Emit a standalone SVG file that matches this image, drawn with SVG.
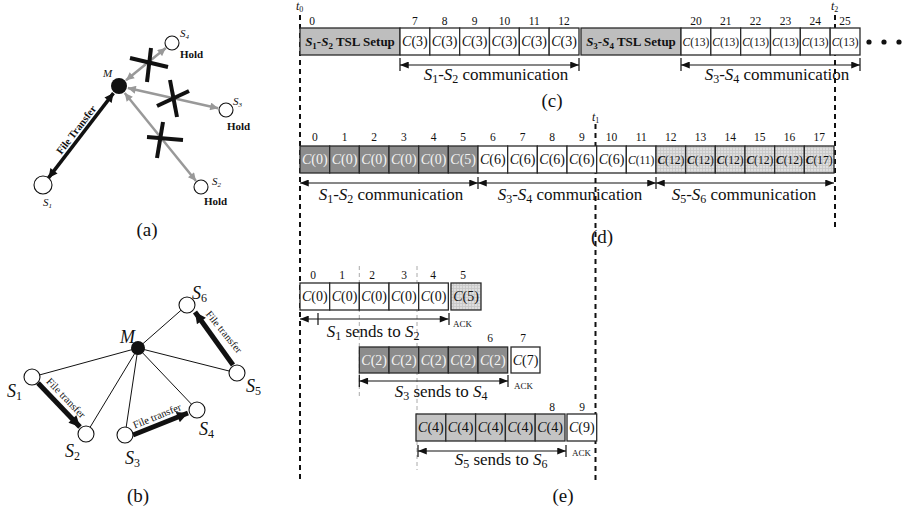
<svg xmlns="http://www.w3.org/2000/svg" width="902" height="521" viewBox="0 0 902 521">
<defs>
<style>
text{font-family:"Liberation Serif","Times New Roman",serif;fill:#111}
.num{font-size:11.5px;text-anchor:middle}
.cb{font-size:14px;text-anchor:middle}
.cs{font-size:11.5px;text-anchor:middle}
.wt{fill:#f4f4f4}
.it{font-style:italic}
.lab{font-size:17px;text-anchor:middle}
.cap{font-size:19px;text-anchor:middle}
.ack{font-size:9px}
.box{stroke:#2a2a2a;stroke-width:1.3}
.w{fill:#fff}
.dk{fill:#8c8c8c}
.md{fill:#c4c4c4}
.ts{fill:#bebebe}
.ht{fill:url(#hatch)}
.dash{stroke:#111;stroke-width:2;stroke-dasharray:5,4;fill:none}
.gdash{stroke:#aaa;stroke-width:1;stroke-dasharray:4,3;fill:none}
.tl{stroke:#111;stroke-width:1.2;fill:none;marker-start:url(#ab);marker-end:url(#ab)}
.tick{stroke:#111;stroke-width:1.2}
.xm{stroke:#111;stroke-width:4;stroke-linecap:butt}
.node{fill:#fff;stroke:#111;stroke-width:1.1}
.hold{font-size:11px;font-weight:bold}
.sa{font-size:11px;font-style:italic}
.sb{font-size:18px;font-style:italic}
.ft{font-size:10.5px}
</style>
<pattern id="hatch" width="3" height="3" patternUnits="userSpaceOnUse">
<rect width="3" height="3" fill="#dedede"/>
<path d="M0,0.5H3M0.5,0V3" stroke="#c6c6c6" stroke-width="0.8"/>
</pattern>
<marker id="ab" viewBox="0 0 10 8" refX="10" refY="4" markerWidth="10" markerHeight="7" orient="auto-start-reverse" markerUnits="userSpaceOnUse"><path d="M0,0L10,4L0,8z" fill="#111"/></marker>
<marker id="ag" viewBox="0 0 10 10" refX="10" refY="5" markerWidth="9" markerHeight="8" orient="auto-start-reverse" markerUnits="userSpaceOnUse"><path d="M0,0L10,5L0,10z" fill="#999"/></marker>
<marker id="ak" viewBox="0 0 10 10" refX="10" refY="5" markerWidth="10" markerHeight="9" orient="auto-start-reverse" markerUnits="userSpaceOnUse"><path d="M0,0L10,5L0,10z" fill="#111"/></marker>
<marker id="akb" viewBox="0 0 10 10" refX="10" refY="5" markerWidth="13" markerHeight="11" orient="auto" markerUnits="userSpaceOnUse"><path d="M0,0L10,5L0,10z" fill="#111"/></marker>
</defs>
<rect width="902" height="521" fill="#fff"/>

<!-- ===== (a) ===== -->
<g id="a-connectors">
<line x1="126" y1="80.3" x2="165.8" y2="48" stroke="#999" stroke-width="2.5" marker-start="url(#ag)" marker-end="url(#ag)"/>
<line x1="127.8" y1="88" x2="218.2" y2="108.2" stroke="#999" stroke-width="2.5" marker-start="url(#ag)" marker-end="url(#ag)"/>
<line x1="124.7" y1="93" x2="196" y2="181" stroke="#999" stroke-width="2.5" marker-start="url(#ag)" marker-end="url(#ag)"/>
<line x1="113.5" y1="93.1" x2="48.5" y2="177.9" stroke="#111" stroke-width="3.5" marker-start="url(#ak)" marker-end="url(#ak)"/>
<text class="ft" font-size="11" font-weight="bold" text-anchor="middle" transform="translate(79,132) rotate(-52.5)">File Transfer</text>
<line class="xm" x1="130" y1="58" x2="168" y2="67"/><line class="xm" x1="151" y1="48" x2="147" y2="82"/>
<line class="xm" x1="157" y1="106" x2="189" y2="91"/><line class="xm" x1="170" y1="80" x2="177" y2="117"/>
<line class="xm" x1="147" y1="137" x2="183" y2="140"/><line class="xm" x1="163" y1="122" x2="157" y2="158"/>
</g>
<g id="a-M"><circle cx="119" cy="86" r="8" fill="#111"/><text class="sa" x="103" y="77">M</text></g>
<g id="a-S4"><circle class="node" cx="172" cy="43" r="7"/><text class="sa" x="180" y="37">S<tspan font-size="7" dy="2">4</tspan></text><text class="hold" x="180" y="58">Hold</text></g>
<g id="a-S3"><circle class="node" cx="226" cy="110" r="7"/><text class="sa" x="233" y="105">S<tspan font-size="7" dy="2">3</tspan></text><text class="hold" x="227" y="130">Hold</text></g>
<g id="a-S2"><circle class="node" cx="201" cy="187" r="7"/><text class="sa" x="212" y="185">S<tspan font-size="7" dy="2">2</tspan></text><text class="hold" x="204" y="205">Hold</text></g>
<g id="a-S1"><circle class="node" cx="43" cy="185" r="9"/><text class="sa" x="43" y="206">S<tspan font-size="7" dy="2">1</tspan></text></g>
<text class="cap" x="147" y="236">(a)</text>

<!-- ===== (b) ===== -->
<g id="b-connectors">
<line x1="138" y1="348" x2="32" y2="377" stroke="#111" stroke-width="1"/>
<line x1="138" y1="348" x2="86" y2="434" stroke="#111" stroke-width="1"/>
<line x1="138" y1="348" x2="125" y2="435" stroke="#111" stroke-width="1"/>
<line x1="138" y1="348" x2="197" y2="410" stroke="#111" stroke-width="1"/>
<line x1="138" y1="348" x2="237" y2="373" stroke="#111" stroke-width="1"/>
<line x1="138" y1="348" x2="187" y2="305" stroke="#111" stroke-width="1"/>
<line x1="38" y1="383" x2="80" y2="427" stroke="#111" stroke-width="5" marker-end="url(#akb)"/>
<line x1="133" y1="435" x2="188" y2="413" stroke="#111" stroke-width="5" marker-end="url(#akb)"/>
<line x1="233" y1="365" x2="195" y2="312" stroke="#111" stroke-width="5" marker-end="url(#akb)"/>
<text class="ft" text-anchor="middle" transform="translate(63.5,400.4) rotate(46)">File transfer</text>
<text class="ft" text-anchor="middle" transform="translate(158.3,419.2) rotate(-22)">File transfer</text>
<text class="ft" text-anchor="middle" transform="translate(221.3,334.2) rotate(51)">File transfer</text>
</g>
<g id="b-M"><circle cx="138" cy="348" r="7" fill="#111"/><text class="sb" x="120" y="343">M</text></g>
<g id="b-S1"><circle class="node" cx="32" cy="377" r="8"/><text class="sb" x="7" y="397">S<tspan font-size="12" font-style="normal" dy="3">1</tspan></text></g>
<g id="b-S2"><circle class="node" cx="86" cy="434" r="8"/><text class="sb" x="65" y="457">S<tspan font-size="12" font-style="normal" dy="3">2</tspan></text></g>
<g id="b-S3"><circle class="node" cx="125" cy="435" r="8"/><text class="sb" x="125" y="464">S<tspan font-size="12" font-style="normal" dy="3">3</tspan></text></g>
<g id="b-S4"><circle class="node" cx="197" cy="410" r="8"/><text class="sb" x="199" y="435">S<tspan font-size="12" font-style="normal" dy="3">4</tspan></text></g>
<g id="b-S5"><circle class="node" cx="237" cy="373" r="8"/><text class="sb" x="246" y="392">S<tspan font-size="12" font-style="normal" dy="3">5</tspan></text></g>
<g id="b-S6"><circle class="node" cx="187" cy="305" r="8"/><text class="sb" x="192" y="299">S<tspan font-size="12" font-style="normal" dy="3">6</tspan></text></g>
<text class="cap" x="138" y="502">(b)</text>

<!-- ===== time markers ===== -->
<g id="time-lines">
<line class="dash" x1="300" y1="15" x2="300" y2="481"/>
<line class="dash" x1="835" y1="15" x2="835" y2="231"/>
<line class="dash" x1="595.5" y1="124" x2="595.5" y2="480"/>
<line class="gdash" x1="359.3" y1="266" x2="359.3" y2="396"/>
<line class="gdash" x1="417" y1="266" x2="417" y2="470"/>
<text class="it" font-size="12" x="296" y="10">t<tspan font-size="8" font-style="normal" dy="2">0</tspan></text>
<text class="it" font-size="12" x="831" y="10">t<tspan font-size="8" font-style="normal" dy="2">2</tspan></text>
<text class="it" font-size="12" x="592" y="121">t<tspan font-size="8" font-style="normal" dy="2">1</tspan></text>
</g>

<!-- ===== (c) ===== -->
<g id="c-row">
<rect class="box ts" x="300" y="28" width="100" height="27"/>
<text font-size="13" font-weight="bold" x="350" y="46" text-anchor="middle"><tspan font-style="italic">S</tspan><tspan font-size="9" dy="3">1</tspan><tspan dy="-3">-</tspan><tspan font-style="italic">S</tspan><tspan font-size="9" dy="3">2</tspan><tspan dy="-3"> TSL Setup</tspan></text>
<rect class="box w" x="400" y="28" width="29.83" height="27"/>
<rect class="box w" x="429.83" y="28" width="29.83" height="27"/>
<rect class="box w" x="459.67" y="28" width="29.83" height="27"/>
<rect class="box w" x="489.5" y="28" width="29.83" height="27"/>
<rect class="box w" x="519.33" y="28" width="29.83" height="27"/>
<rect class="box w" x="549.17" y="28" width="29.83" height="27"/>
<text class="cb" x="414.9" y="46"><tspan class="it">C</tspan>(3)</text>
<text class="cb" x="444.7" y="46"><tspan class="it">C</tspan>(3)</text>
<text class="cb" x="474.6" y="46"><tspan class="it">C</tspan>(3)</text>
<text class="cb" x="504.4" y="46"><tspan class="it">C</tspan>(3)</text>
<text class="cb" x="534.2" y="46"><tspan class="it">C</tspan>(3)</text>
<text class="cb" x="564.1" y="46"><tspan class="it">C</tspan>(3)</text>
<rect class="box ts" x="581" y="28" width="100" height="27"/>
<text font-size="13" font-weight="bold" x="631" y="46" text-anchor="middle"><tspan font-style="italic">S</tspan><tspan font-size="9" dy="3">3</tspan><tspan dy="-3">-</tspan><tspan font-style="italic">S</tspan><tspan font-size="9" dy="3">4</tspan><tspan dy="-3"> TSL Setup</tspan></text>
<rect class="box w" x="681" y="28" width="29.83" height="27"/>
<rect class="box w" x="710.83" y="28" width="29.83" height="27"/>
<rect class="box w" x="740.67" y="28" width="29.83" height="27"/>
<rect class="box w" x="770.5" y="28" width="29.83" height="27"/>
<rect class="box w" x="800.33" y="28" width="29.83" height="27"/>
<rect class="box w" x="830.17" y="28" width="29.83" height="27"/>
<text class="cs" x="695.9" y="46"><tspan class="it">C</tspan>(13)</text>
<text class="cs" x="725.7" y="46"><tspan class="it">C</tspan>(13)</text>
<text class="cs" x="755.6" y="46"><tspan class="it">C</tspan>(13)</text>
<text class="cs" x="785.4" y="46"><tspan class="it">C</tspan>(13)</text>
<text class="cs" x="815.2" y="46"><tspan class="it">C</tspan>(13)</text>
<text class="cs" x="845.1" y="46"><tspan class="it">C</tspan>(13)</text>
<circle cx="869" cy="42" r="2.6" fill="#111"/><circle cx="884" cy="42" r="2.6" fill="#111"/><circle cx="899" cy="42" r="2.6" fill="#111"/>
<text class="num" x="312" y="25">0</text>
<text class="num" x="414.9" y="25">7</text><text class="num" x="444.7" y="25">8</text><text class="num" x="474.6" y="25">9</text><text class="num" x="504.4" y="25">10</text><text class="num" x="534.2" y="25">11</text><text class="num" x="564.1" y="25">12</text>
<text class="num" x="695.9" y="25">20</text><text class="num" x="725.7" y="25">21</text><text class="num" x="755.6" y="25">22</text><text class="num" x="785.4" y="25">23</text><text class="num" x="815.2" y="25">24</text><text class="num" x="845.1" y="25">25</text>
<line class="tl" x1="400" y1="65" x2="579" y2="65"/>
<line class="tick" x1="400" y1="58" x2="400" y2="71"/><line class="tick" x1="579" y1="58" x2="579" y2="71"/>
<line class="tl" x1="681" y1="65" x2="860" y2="65"/>
<line class="tick" x1="681" y1="58" x2="681" y2="71"/><line class="tick" x1="860" y1="58" x2="860" y2="71"/>
<text class="lab" x="496" y="80"><tspan class="it">S</tspan><tspan font-size="12" dy="3">1</tspan><tspan dy="-3">-</tspan><tspan class="it">S</tspan><tspan font-size="12" dy="3">2</tspan><tspan dy="-3"> communication</tspan></text>
<text class="lab" x="777" y="80"><tspan class="it">S</tspan><tspan font-size="12" dy="3">3</tspan><tspan dy="-3">-</tspan><tspan class="it">S</tspan><tspan font-size="12" dy="3">4</tspan><tspan dy="-3"> communication</tspan></text>
<text class="cap" x="552" y="107">(c)</text>
</g>

<!-- ===== (d) ===== -->
<g id="d-row">
<rect class="box dk" x="300" y="146" width="29.67" height="27"/>
<rect class="box dk" x="329.67" y="146" width="29.67" height="27"/>
<rect class="box dk" x="359.33" y="146" width="29.67" height="27"/>
<rect class="box dk" x="389" y="146" width="29.67" height="27"/>
<rect class="box dk" x="418.67" y="146" width="29.67" height="27"/>
<rect class="box dk" x="448.33" y="146" width="29.67" height="27"/>
<rect class="box w" x="478" y="146" width="29.67" height="27"/>
<rect class="box w" x="507.67" y="146" width="29.67" height="27"/>
<rect class="box w" x="537.33" y="146" width="29.67" height="27"/>
<rect class="box w" x="567" y="146" width="29.67" height="27"/>
<rect class="box w" x="596.67" y="146" width="29.67" height="27"/>
<rect class="box w" x="626.33" y="146" width="29.67" height="27"/>
<rect class="box ht" x="656" y="146" width="29.67" height="27"/>
<rect class="box ht" x="685.67" y="146" width="29.67" height="27"/>
<rect class="box ht" x="715.33" y="146" width="29.67" height="27"/>
<rect class="box ht" x="745" y="146" width="29.67" height="27"/>
<rect class="box ht" x="774.67" y="146" width="29.67" height="27"/>
<rect class="box ht" x="804.33" y="146" width="29.67" height="27"/>
<text class="cb wt" x="314.8" y="164"><tspan class="it">C</tspan>(0)</text>
<text class="cb wt" x="344.5" y="164"><tspan class="it">C</tspan>(0)</text>
<text class="cb wt" x="374.2" y="164"><tspan class="it">C</tspan>(0)</text>
<text class="cb wt" x="403.8" y="164"><tspan class="it">C</tspan>(0)</text>
<text class="cb wt" x="433.5" y="164"><tspan class="it">C</tspan>(0)</text>
<text class="cb wt" x="463.2" y="164"><tspan class="it">C</tspan>(5)</text>
<text class="cb" x="492.8" y="164"><tspan class="it">C</tspan>(6)</text>
<text class="cb" x="522.5" y="164"><tspan class="it">C</tspan>(6)</text>
<text class="cb" x="552.2" y="164"><tspan class="it">C</tspan>(6)</text>
<text class="cb" x="581.8" y="164"><tspan class="it">C</tspan>(6)</text>
<text class="cb" x="611.5" y="164"><tspan class="it">C</tspan>(6)</text>
<text class="cs" x="641.2" y="164"><tspan class="it">C</tspan>(11)</text>
<text class="cs" x="670.8" y="164"><tspan class="it" font-weight="bold">C</tspan>(12)</text>
<text class="cs" x="700.5" y="164"><tspan class="it" font-weight="bold">C</tspan>(12)</text>
<text class="cs" x="730.2" y="164"><tspan class="it" font-weight="bold">C</tspan>(12)</text>
<text class="cs" x="759.8" y="164"><tspan class="it" font-weight="bold">C</tspan>(12)</text>
<text class="cs" x="789.5" y="164"><tspan class="it" font-weight="bold">C</tspan>(12)</text>
<text class="cs" x="819.2" y="164"><tspan class="it" font-weight="bold">C</tspan>(17)</text>
<text class="num" x="314.8" y="141">0</text><text class="num" x="344.5" y="141">1</text><text class="num" x="374.2" y="141">2</text><text class="num" x="403.8" y="141">3</text><text class="num" x="433.5" y="141">4</text><text class="num" x="463.2" y="141">5</text>
<text class="num" x="492.8" y="141">6</text><text class="num" x="522.5" y="141">7</text><text class="num" x="552.2" y="141">8</text><text class="num" x="581.8" y="141">9</text><text class="num" x="611.5" y="141">10</text><text class="num" x="641.2" y="141">11</text>
<text class="num" x="670.8" y="141">12</text><text class="num" x="700.5" y="141">13</text><text class="num" x="730.2" y="141">14</text><text class="num" x="759.8" y="141">15</text><text class="num" x="789.5" y="141">16</text><text class="num" x="819.2" y="141">17</text>
<line class="tl" x1="300" y1="183" x2="478" y2="183"/>
<line class="tl" x1="478" y1="183" x2="656" y2="183"/>
<line class="tl" x1="656" y1="183" x2="834" y2="183"/>
<line class="tick" x1="478" y1="177" x2="478" y2="189"/><line class="tick" x1="656" y1="177" x2="656" y2="189"/>
<text class="lab" x="391" y="200"><tspan class="it">S</tspan><tspan font-size="12" dy="3">1</tspan><tspan dy="-3">-</tspan><tspan class="it">S</tspan><tspan font-size="12" dy="3">2</tspan><tspan dy="-3"> communication</tspan></text>
<text class="lab" x="570" y="200"><tspan class="it">S</tspan><tspan font-size="12" dy="3">3</tspan><tspan dy="-3">-</tspan><tspan class="it">S</tspan><tspan font-size="12" dy="3">4</tspan><tspan dy="-3"> communication</tspan></text>
<text class="lab" x="744" y="200"><tspan class="it">S</tspan><tspan font-size="12" dy="3">5</tspan><tspan dy="-3">-</tspan><tspan class="it">S</tspan><tspan font-size="12" dy="3">6</tspan><tspan dy="-3"> communication</tspan></text>
<text class="cap" x="602" y="243">(d)</text>
</g>

<!-- ===== (e) ===== -->
<g id="e-row1">
<rect class="box w" x="300" y="283" width="29.67" height="27"/>
<rect class="box w" x="329.67" y="283" width="29.67" height="27"/>
<rect class="box w" x="359.33" y="283" width="29.67" height="27"/>
<rect class="box w" x="389" y="283" width="29.67" height="27"/>
<rect class="box w" x="418.67" y="283" width="29.67" height="27"/>
<rect class="box ht" x="451" y="283" width="30" height="27"/>
<text class="cb" x="314.8" y="301"><tspan class="it">C</tspan>(0)</text>
<text class="cb" x="344.5" y="301"><tspan class="it">C</tspan>(0)</text>
<text class="cb" x="374.2" y="301"><tspan class="it">C</tspan>(0)</text>
<text class="cb" x="403.8" y="301"><tspan class="it">C</tspan>(0)</text>
<text class="cb" x="433.5" y="301"><tspan class="it">C</tspan>(0)</text>
<text class="cb" x="466" y="301"><tspan class="it">C</tspan>(5)</text>
<text class="num" x="313" y="279">0</text><text class="num" x="342" y="279">1</text><text class="num" x="372" y="279">2</text><text class="num" x="404" y="279">3</text><text class="num" x="433" y="279">4</text><text class="num" x="463" y="279">5</text>
<line class="tl" x1="300" y1="319" x2="448.5" y2="319"/>
<line class="tick" x1="318" y1="313" x2="318" y2="325"/><line class="tick" x1="449" y1="313" x2="449" y2="325"/>
<text class="ack" x="453" y="327">ACK</text>
<text class="lab" x="373" y="337"><tspan class="it">S</tspan><tspan font-size="12" dy="3">1</tspan><tspan dy="-3"> sends to </tspan><tspan class="it">S</tspan><tspan font-size="12" dy="3">2</tspan></text>
</g>
<g id="e-row2">
<rect class="box dk" x="359.33" y="347" width="29.67" height="26"/>
<rect class="box dk" x="389" y="347" width="29.67" height="26"/>
<rect class="box dk" x="418.67" y="347" width="29.67" height="26"/>
<rect class="box dk" x="448.33" y="347" width="29.67" height="26"/>
<rect class="box dk" x="478" y="347" width="29.67" height="26"/>
<rect class="box w" x="511" y="347" width="29" height="26"/>
<text class="cb wt" x="374.2" y="365"><tspan class="it">C</tspan>(2)</text>
<text class="cb wt" x="403.8" y="365"><tspan class="it">C</tspan>(2)</text>
<text class="cb wt" x="433.5" y="365"><tspan class="it">C</tspan>(2)</text>
<text class="cb wt" x="463.2" y="365"><tspan class="it">C</tspan>(2)</text>
<text class="cb wt" x="492.8" y="365"><tspan class="it">C</tspan>(2)</text>
<text class="cb" x="525.5" y="365"><tspan class="it">C</tspan>(7)</text>
<text class="num" x="490" y="342">6</text><text class="num" x="523" y="342">7</text>
<line class="tl" x1="359.3" y1="381" x2="508" y2="381"/>
<line class="tick" x1="359.3" y1="375" x2="359.3" y2="387"/><line class="tick" x1="508" y1="375" x2="508" y2="387"/>
<text class="ack" x="514" y="389">ACK</text>
<text class="lab" x="441" y="397"><tspan class="it">S</tspan><tspan font-size="12" dy="3">3</tspan><tspan dy="-3"> sends to </tspan><tspan class="it">S</tspan><tspan font-size="12" dy="3">4</tspan></text>
</g>
<g id="e-row3">
<rect class="box md" x="416" y="414" width="29.8" height="27"/>
<rect class="box md" x="445.8" y="414" width="29.8" height="27"/>
<rect class="box md" x="475.6" y="414" width="29.8" height="27"/>
<rect class="box md" x="505.4" y="414" width="29.8" height="27"/>
<rect class="box md" x="535.2" y="414" width="29.8" height="27"/>
<rect class="box w" x="567" y="414" width="29.7" height="27"/>
<text class="cb" x="430.9" y="432"><tspan class="it">C</tspan>(4)</text>
<text class="cb" x="460.7" y="432"><tspan class="it">C</tspan>(4)</text>
<text class="cb" x="490.5" y="432"><tspan class="it">C</tspan>(4)</text>
<text class="cb" x="520.3" y="432"><tspan class="it">C</tspan>(4)</text>
<text class="cb" x="550.1" y="432"><tspan class="it">C</tspan>(4)</text>
<text class="cb" x="581.8" y="432"><tspan class="it">C</tspan>(9)</text>
<text class="num" x="552" y="411">8</text><text class="num" x="582" y="411">9</text>
<line class="tl" x1="418" y1="451" x2="566" y2="451"/>
<line class="tick" x1="418" y1="445" x2="418" y2="457"/><line class="tick" x1="566" y1="445" x2="566" y2="457"/>
<text class="ack" x="572" y="456">ACK</text>
<text class="lab" x="501" y="465"><tspan class="it">S</tspan><tspan font-size="12" dy="3">5</tspan><tspan dy="-3"> sends to </tspan><tspan class="it">S</tspan><tspan font-size="12" dy="3">6</tspan></text>
</g>
<text class="cap" x="563" y="502">(e)</text>
</svg>
